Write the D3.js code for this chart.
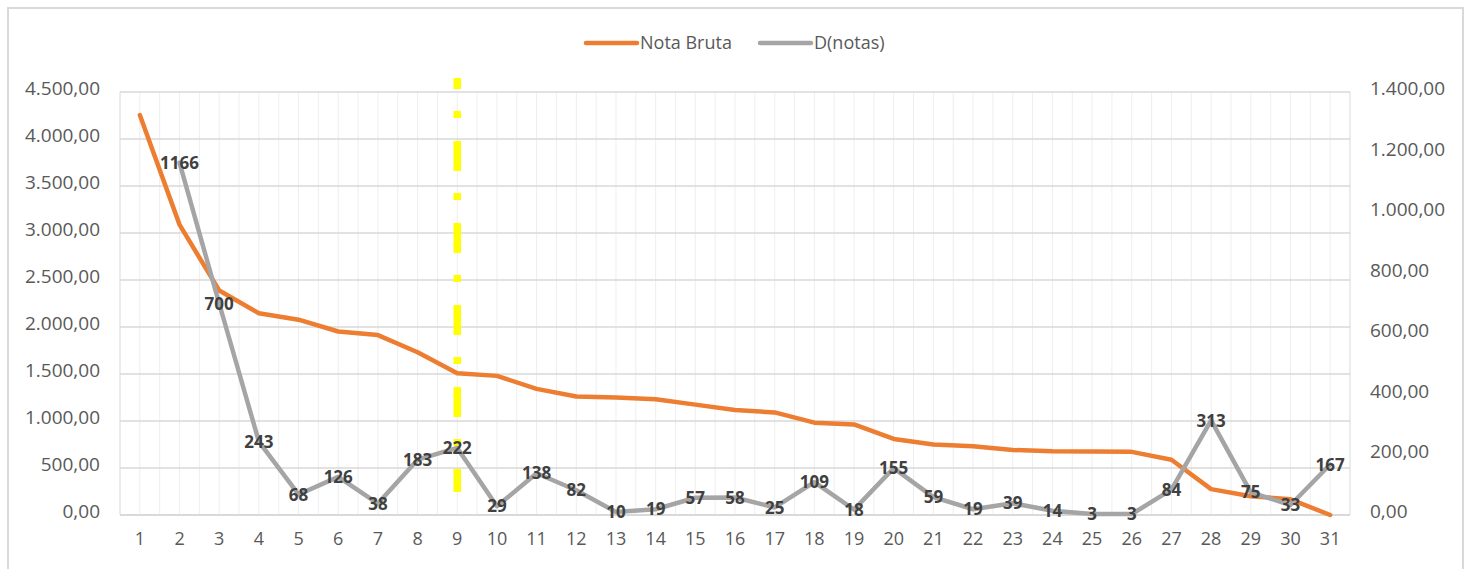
<!DOCTYPE html>
<html>
<head>
<meta charset="utf-8">
<script src="https://cdn.jsdelivr.net/npm/d3@7"></script>
<style>
  body { margin: 0; background: #fff; }
  svg { display: block; font-family: "Open Sans", sans-serif; }
</style>
</head>
<body>
<svg id="chart" width="1474" height="569"></svg>
<script>
// categories 1..31
var categories = d3.range(1, 32);
// Nota Bruta (left axis)
var notaBruta = [4255, 3089, 2389, 2146, 2078, 1952, 1914, 1731, 1509, 1480,
                 1342, 1260, 1250, 1231, 1174, 1116, 1091, 982, 964, 809,
                 750, 731, 692, 678, 675, 672, 588, 275, 200, 167, 0];
// D(notas) (right axis), starts at category 2
var dNotas = [null, 1166, 700, 243, 68, 126, 38, 183, 222, 29,
              138, 82, 10, 19, 57, 58, 25, 109, 18, 155,
              59, 19, 39, 14, 3, 3, 84, 313, 75, 33, 167];
var leftTicks = d3.range(0, 4501, 500);
var rightTicks = d3.range(0, 1401, 200);
var markerCategory = 9;
var seriesNames = ["Nota Bruta", "D(notas)"];

var svg = d3.select("#chart");
var plotLeft = 120, plotRight = 1350, plotTop = 92, plotBottom = 515;

var fmt = function(v) {
    var s = d3.format(",.2f")(v);
    return s.replace(/,/g, "#").replace(/\./g, ",").replace(/#/g, ".");
};

// outer border
svg.append("rect")
    .attr("x", 8).attr("y", 8)
    .attr("width", 1455).attr("height", 580)
    .attr("fill", "#fff")
    .attr("stroke", "#d9d9d9").attr("stroke-width", 2);

var x = d3.scaleBand().domain(categories).range([plotLeft, plotRight]);
var yL = d3.scaleLinear().domain([0, 4500]).range([plotBottom, plotTop]);
var yR = d3.scaleLinear().domain([0, 1400]).range([plotBottom, plotTop]);
var cx = function(c) { return x(c) + x.bandwidth() / 2; };

// vertical gridlines every half category
var halfSteps = d3.range(0, categories.length * 2 + 1);
svg.append("g").selectAll("line").data(halfSteps).join("line")
    .attr("x1", function(i) { return plotLeft + i * x.bandwidth() / 2; })
    .attr("x2", function(i) { return plotLeft + i * x.bandwidth() / 2; })
    .attr("y1", plotTop).attr("y2", plotBottom)
    .attr("stroke", function(i) { return (i === 0 || i === categories.length * 2) ? "#d9d9d9" : "#eeeeee"; })
    .attr("stroke-width", 1);

// horizontal gridlines
svg.append("g").selectAll("line").data(leftTicks).join("line")
    .attr("x1", plotLeft).attr("x2", plotRight)
    .attr("y1", function(d) { return yL(d); })
    .attr("y2", function(d) { return yL(d); })
    .attr("stroke", "#d9d9d9")
    .attr("stroke-width", function(d) { return d === 0 ? 2 : 1.3; });

// left axis
var gL = svg.append("g")
    .attr("transform", "translate(" + plotLeft + ",0)")
    .call(d3.axisLeft(yL).tickValues(leftTicks).tickFormat(fmt).tickSize(0).tickPadding(20));
gL.select(".domain").remove();
gL.selectAll("text").attr("font-size", 19).attr("fill", "#595959")
    .attr("font-family", "Open Sans").attr("dy", "0.15em");

// right axis
var gR = svg.append("g")
    .attr("transform", "translate(" + plotRight + ",0)")
    .call(d3.axisRight(yR).tickValues(rightTicks).tickFormat(fmt).tickSize(0).tickPadding(20));
gR.select(".domain").remove();
gR.selectAll("text").attr("font-size", 19).attr("fill", "#595959")
    .attr("font-family", "Open Sans").attr("dy", "0.15em");

// bottom axis
var gB = svg.append("g")
    .attr("transform", "translate(0," + plotBottom + ")")
    .call(d3.axisBottom(x).tickSize(0).tickPadding(17));
gB.select(".domain").remove();
gB.selectAll("text").attr("font-size", 18).attr("fill", "#595959")
    .attr("font-family", "Open Sans");

// yellow dashed marker line
svg.append("line")
    .attr("x1", cx(markerCategory)).attr("x2", cx(markerCategory))
    .attr("y1", 78).attr("y2", 492)
    .attr("stroke", "#ffff00").attr("stroke-width", 7.5)
    .attr("stroke-dasharray", "30,22,7,23")
    .attr("stroke-dashoffset", 19);

// lines
var lineL = d3.line()
    .defined(function(d) { return d != null; })
    .x(function(d, i) { return cx(categories[i]); })
    .y(function(d) { return yL(d); });
var lineR = d3.line()
    .defined(function(d) { return d != null; })
    .x(function(d, i) { return cx(categories[i]); })
    .y(function(d) { return yR(d); });

svg.append("path").datum(notaBruta)
    .attr("d", lineL).attr("fill", "none")
    .attr("stroke", "#ed7d31").attr("stroke-width", 4.5)
    .attr("stroke-linejoin", "round").attr("stroke-linecap", "round");

svg.append("path").datum(dNotas)
    .attr("d", lineR).attr("fill", "none")
    .attr("stroke", "#a5a5a5").attr("stroke-width", 4.5)
    .attr("stroke-linejoin", "round").attr("stroke-linecap", "round");

// data labels for D(notas)
var labelData = dNotas.map(function(v, i) { return { v: v, c: categories[i] }; })
    .filter(function(d) { return d.v != null; });
svg.append("g").selectAll("text").data(labelData).join("text")
    .attr("x", function(d) { return cx(d.c); })
    .attr("y", function(d) { return yR(d.v); })
    .attr("dy", "0.36em")
    .attr("text-anchor", "middle")
    .attr("font-size", 17).attr("font-weight", 700)
    .attr("fill", "#404040")
    .text(function(d) { return d.v; });

// legend
var legend = svg.append("g").attr("transform", "translate(586,43)");
var legendItems = [
    { name: seriesNames[0], color: "#ed7d31", x: 0 },
    { name: seriesNames[1], color: "#a5a5a5", x: 174 }
];
legendItems.forEach(function(it) {
    legend.append("line")
        .attr("x1", it.x).attr("x2", it.x + 51)
        .attr("y1", 0).attr("y2", 0)
        .attr("stroke", it.color).attr("stroke-width", 4.5)
        .attr("stroke-linecap", "round");
    legend.append("text")
        .attr("x", it.x + 54).attr("y", 0).attr("dy", "0.35em")
        .attr("font-size", 18).attr("fill", "#595959")
        .text(it.name);
});
</script>
</body>
</html>
